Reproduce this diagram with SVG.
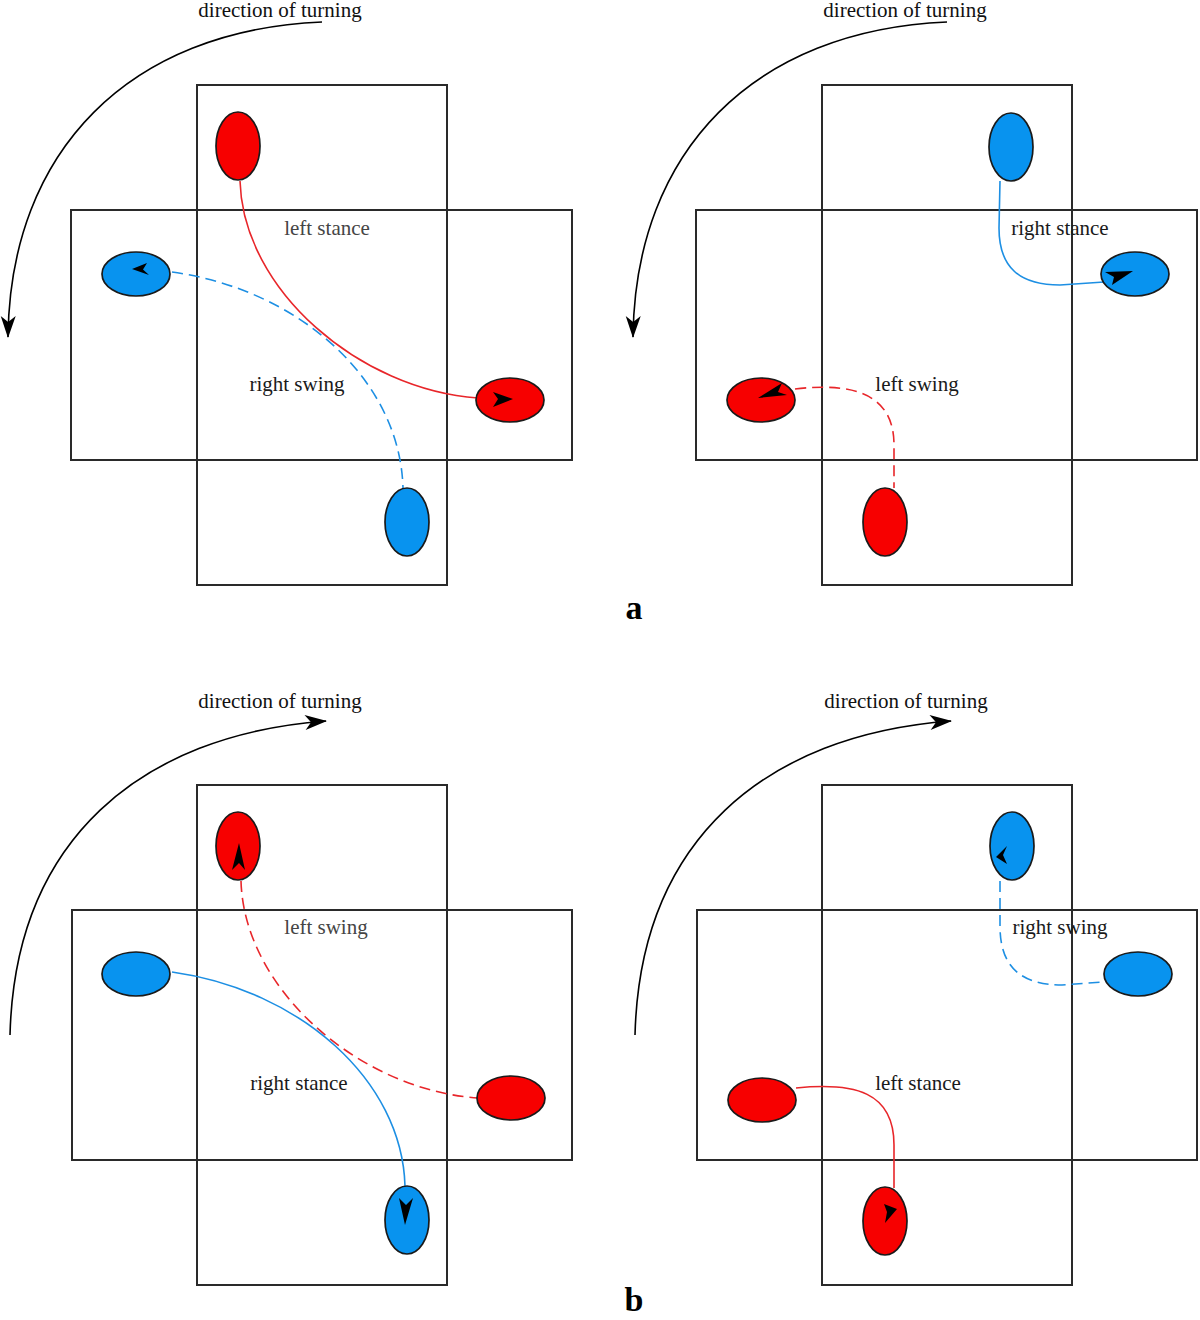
<svg xmlns="http://www.w3.org/2000/svg" width="1200" height="1320" viewBox="0 0 1200 1320">
<defs>
<marker id="turn" viewBox="-24 -9 26 18" refX="0" refY="0" markerWidth="26" markerHeight="18" markerUnits="userSpaceOnUse" orient="auto">
<path d="M1,0 L-21,-7.5 L-15,0 L-21,7.5 Z" fill="#000"/>
</marker>
</defs>
<style>
.box{fill:none;stroke:#2a2a2a;stroke-width:2}
.red{fill:#f70000;stroke:#1a1a1a;stroke-width:1.7}
.blue{fill:#0893ef;stroke:#1a1a1a;stroke-width:1.7}
.rl{fill:none;stroke:#e8262a;stroke-width:1.6}
.bl{fill:none;stroke:#1d8fe3;stroke-width:1.6}
.dash{stroke-dasharray:11 6}
.turnarc{fill:none;stroke:#000;stroke-width:1.6;marker-end:url(#turn)}
.tip{fill:#000}
.lbl{font-family:"Liberation Serif","Times New Roman",serif;font-size:21px;fill:#1a1a1a;text-anchor:middle}
.lg{fill:#454545}
.dir{font-family:"Liberation Serif","Times New Roman",serif;font-size:21px;fill:#111;text-anchor:middle}
.fig{font-family:"Liberation Serif","Times New Roman",serif;font-size:34px;font-weight:bold;fill:#000;text-anchor:middle}
</style>

<!-- Panel a, left -->
<g id="panel-a-left">
<rect class="box" x="197" y="85" width="250" height="500"/>
<rect class="box" x="71" y="210" width="501" height="250"/>
</g>
<!-- Panel a, right -->
<g id="panel-a-right">
<rect class="box" x="822" y="85" width="250" height="500"/>
<rect class="box" x="696" y="210" width="501" height="250"/>
</g>
<!-- Panel b, left -->
<g id="panel-b-left">
<rect class="box" x="197" y="785" width="250" height="500"/>
<rect class="box" x="72" y="910" width="500" height="250"/>
</g>
<!-- Panel b, right -->
<g id="panel-b-right">
<rect class="box" x="822" y="785" width="250" height="500"/>
<rect class="box" x="697" y="910" width="500" height="250"/>
</g>

<g id="connectors">
<!-- direction arrows -->
<path class="turnarc" d="M322,22 C130,30 10,150 8,337"/>
<path class="turnarc" d="M947,22 C755,30 635,150 633,337"/>
<path class="turnarc" d="M10,1035 C15,840 140,735 326,721"/>
<path class="turnarc" d="M635,1035 C640,840 765,735 951,721"/>
<!-- a left -->
<path class="rl" d="M240,181 C243,290 360,390 478,398"/>
<path class="bl dash" d="M172,272 C300,290 400,380 403,488"/>
<!-- a right -->
<path class="bl" d="M1000,181 L999,228 C999,268 1020,285 1060,285 L1104,282"/>
<path class="rl dash" d="M795,389 C855,382 894,395 894,445 L894,488"/>
<!-- b left -->
<path class="rl dash" d="M241,881 C244,990 360,1090 478,1098"/>
<path class="bl" d="M172,972 C300,990 402,1080 405,1186"/>
<!-- b right -->
<path class="rl" d="M796,1088 C855,1082 894,1092 894,1145 L894,1188"/>
<path class="bl dash" d="M1000,881 L1000,926 C1000,966 1020,985 1062,985 L1103,982"/>
</g>

<!-- feet a left -->
<g id="a-left-red-top"><ellipse class="red" cx="238" cy="146" rx="22" ry="34"/></g>
<g id="a-left-blue-left"><ellipse class="blue" cx="136" cy="274" rx="34" ry="22"/><path class="tip" d="M132,269 L147,263 L143,269.5 L149,275 Z"/></g>
<g id="a-left-red-right"><ellipse class="red" cx="510" cy="400" rx="34" ry="22"/><path class="tip" d="M513,399 L493,392 L498,399 L493,407 Z"/></g>
<g id="a-left-blue-bottom"><ellipse class="blue" cx="407" cy="522" rx="22" ry="34"/></g>
<!-- feet a right -->
<g id="a-right-blue-top"><ellipse class="blue" cx="1011" cy="147" rx="22" ry="34"/></g>
<g id="a-right-blue-right"><ellipse class="blue" cx="1135" cy="274" rx="34" ry="22"/><path class="tip" d="M1133,271 L1105,272 L1114,277 L1112,285 Z"/></g>
<g id="a-right-red-left"><ellipse class="red" cx="761" cy="400" rx="34" ry="22"/><path class="tip" d="M758,398 L782,383 L778,392 L787,395 Z"/></g>
<g id="a-right-red-bottom"><ellipse class="red" cx="885" cy="522" rx="22" ry="34"/></g>
<!-- feet b left -->
<g id="b-left-red-top"><ellipse class="red" cx="238" cy="846" rx="22" ry="34"/><path class="tip" d="M239,843 L232,870 L239,863 L245,870 Z"/></g>
<g id="b-left-blue-left"><ellipse class="blue" cx="136" cy="974" rx="34" ry="22"/></g>
<g id="b-left-red-right"><ellipse class="red" cx="511" cy="1098" rx="34" ry="22"/></g>
<g id="b-left-blue-bottom"><ellipse class="blue" cx="407" cy="1220" rx="22" ry="34"/><path class="tip" d="M405,1225 L399,1198 L406,1205 L413,1198 Z"/></g>
<!-- feet b right -->
<g id="b-right-blue-top"><ellipse class="blue" cx="1012" cy="846" rx="22" ry="34"/><path class="tip" d="M996,857 L1007,846 L1003,855 L1007,864 Z"/></g>
<g id="b-right-blue-right"><ellipse class="blue" cx="1138" cy="974" rx="34" ry="22"/></g>
<g id="b-right-red-left"><ellipse class="red" cx="762" cy="1100" rx="34" ry="22"/></g>
<g id="b-right-red-bottom"><ellipse class="red" cx="885" cy="1221" rx="22" ry="34"/><path class="tip" d="M897,1209 L884,1204 L887,1212 L885,1223 Z"/></g>

<!-- labels -->
<g id="labels">
<text class="dir" x="280" y="17">direction of turning</text>
<text class="dir" x="905" y="17">direction of turning</text>
<text class="dir" x="280" y="708">direction of turning</text>
<text class="dir" x="906" y="708">direction of turning</text>
<text class="lbl lg" x="327" y="235">left stance</text>
<text class="lbl" x="297" y="391">right swing</text>
<text class="lbl" x="1060" y="235">right stance</text>
<text class="lbl" x="917" y="391">left swing</text>
<text class="lbl lg" x="326" y="934">left swing</text>
<text class="lbl" x="299" y="1090">right stance</text>
<text class="lbl" x="1060" y="934">right swing</text>
<text class="lbl" x="918" y="1090">left stance</text>
<text class="fig" x="634" y="619">a</text>
<text class="fig" x="634" y="1311">b</text>
</g>
</svg>
